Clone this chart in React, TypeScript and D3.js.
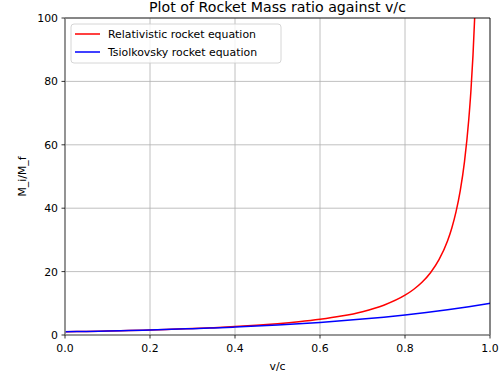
import React from "react";
import * as d3 from "d3";

const speedsRel = [0, 0.05, 0.1, 0.15, 0.2, 0.25, 0.3, 0.35, 0.4, 0.45, 0.5, 0.55, 0.6, 0.65, 0.7, 0.75, 0.8, 0.82, 0.84, 0.86, 0.88, 0.9, 0.91, 0.92, 0.93, 0.94, 0.95, 0.955, 0.96, 0.965];
const relativistic = [1, 1.122, 1.26, 1.416, 1.595, 1.801, 2.039, 2.32, 2.652, 3.053, 3.542, 4.153, 4.933, 5.962, 7.366, 9.397, 12.55, 14.35, 16.64, 19.65, 23.76, 29.67, 33.69, 38.82, 45.54, 54.7, 67.89, 76.8, 88.29, 103.3];
const speedsTsi = [0, 0.05, 0.1, 0.15, 0.2, 0.25, 0.3, 0.35, 0.4, 0.45, 0.5, 0.55, 0.6, 0.65, 0.7, 0.75, 0.8, 0.85, 0.9, 0.95, 1.0];
const tsiolkovsky = [1, 1.122, 1.259, 1.413, 1.585, 1.778, 1.995, 2.239, 2.512, 2.818, 3.162, 3.548, 3.981, 4.467, 5.012, 5.623, 6.31, 7.079, 7.943, 8.913, 10];
const xTicks = [0, 0.2, 0.4, 0.6, 0.8, 1.0];
const yTicks = [0, 20, 40, 60, 80, 100];
const seriesNames = ["Relativistic rocket equation", "Tsiolkovsky rocket equation"];
const seriesColors = ["#ff0000", "#0000ff"];

const W = 502, H = 377;
const L = 65, R = 490, T = 18, B = 335;
const FONT = "DejaVu Sans, sans-serif";

export default function App() {
  const x = d3.scaleLinear().domain([0, 1]).range([L, R]);
  const y = d3.scaleLinear().domain([0, 100]).range([B, T]);
  const line = d3.line<[number, number]>().x(d => x(d[0])).y(d => y(d[1])).curve(d3.curveMonotoneX);
  const relPts = speedsRel.map((s, i) => [s, relativistic[i]] as [number, number]);
  const tsiPts = speedsTsi.map((s, i) => [s, tsiolkovsky[i]] as [number, number]);

  return (
    <svg width={W} height={H} style={{ position: "absolute", left: 0, top: 0, background: "#fff" }} fontFamily={FONT}>
      <defs>
        <clipPath id="plotclip"><rect x={L} y={T} width={R - L} height={B - T} /></clipPath>
      </defs>
      <rect x={0} y={0} width={W} height={H} fill="#fff" />
      {xTicks.map(t => (
        <line key={"gx" + t} x1={x(t)} x2={x(t)} y1={T} y2={B} stroke="#b0b0b0" strokeWidth={0.8} />
      ))}
      {yTicks.map(t => (
        <line key={"gy" + t} x1={L} x2={R} y1={y(t)} y2={y(t)} stroke="#b0b0b0" strokeWidth={0.8} />
      ))}
      <g clipPath="url(#plotclip)">
        <path d={line(relPts) || ""} fill="none" stroke={seriesColors[0]} strokeWidth={1.5} />
        <path d={line(tsiPts) || ""} fill="none" stroke={seriesColors[1]} strokeWidth={1.5} />
      </g>
      <line x1={L} x2={R} y1={T} y2={T} stroke="#000" strokeWidth={0.8} />
      <line x1={R} x2={R} y1={T} y2={B} stroke="#000" strokeWidth={0.8} />
      <line x1={L} x2={L} y1={T} y2={B} stroke="#808080" strokeWidth={1.6} />
      <line x1={L} x2={R} y1={B} y2={B} stroke="#808080" strokeWidth={1.6} />
      {xTicks.map(t => (
        <g key={"tx" + t}>
          <line x1={x(t)} x2={x(t)} y1={B} y2={B + 3.5} stroke="#000" strokeWidth={0.8} />
          <text x={x(t)} y={B + 17} textAnchor="middle" fontSize={10.9} fill="#000">{t.toFixed(1)}</text>
        </g>
      ))}
      {yTicks.map(t => (
        <g key={"ty" + t}>
          <line x1={L - 3.5} x2={L} y1={y(t)} y2={y(t)} stroke="#000" strokeWidth={0.8} />
          <text x={L - 7} y={y(t)} dy="0.36em" textAnchor="end" fontSize={10.9} fill="#000">{t}</text>
        </g>
      ))}
      <text x={(L + R) / 2} y={12} textAnchor="middle" fontSize={14.2} fill="#000">Plot of Rocket Mass ratio against v/c</text>
      <text x={(L + R) / 2} y={370} textAnchor="middle" fontSize={10.9} fill="#000">v/c</text>
      <text transform={`translate(26,${(T + B) / 2}) rotate(-90)`} textAnchor="middle" fontSize={10.9} fill="#000">M_i/M_f</text>
      <rect x={71} y={24} width={210} height={39} rx={3} fill="#fff" fillOpacity={0.8} stroke="#cccccc" strokeWidth={0.8} />
      {seriesNames.map((n, i) => (
        <g key={n}>
          <line x1={75} x2={100} y1={34 + i * 18} y2={34 + i * 18} stroke={seriesColors[i]} strokeWidth={1.5} />
          <text x={108} y={34 + i * 18} dy="0.36em" fontSize={10.9} fill="#000">{n}</text>
        </g>
      ))}
    </svg>
  );
}
